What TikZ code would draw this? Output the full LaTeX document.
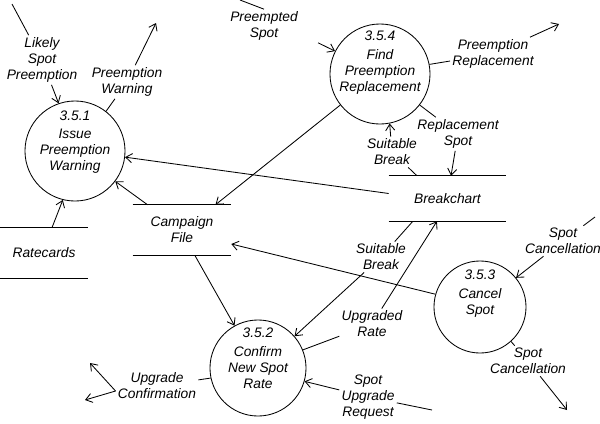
\documentclass[tikz,border=0pt]{standalone}
\usepackage{fontspec}
\setmainfont{Liberation Sans}
\usetikzlibrary{arrows.meta, calc}

\tikzset{
  process/.style={draw, circle, inner sep=0pt, line width=0.6pt},
  procText/.style={align=center, inner sep=0pt},
  flowLabel/.style={align=center, inner sep=1.5pt},
  dataStore/.style={inner sep=0pt, align=center},
  storeLine/.style={line width=0.8pt},
  flow/.style={line width=0.6pt},
}

\begin{document}
\begin{tikzpicture}[x=0.025cm, y=-0.025cm,
    font=\fontsize{9.8}{11.4}\selectfont\itshape,
    >={Straight Barb[length=4.5pt,width=6.5pt]}]
  \useasboundingbox (0,0) rectangle (600,423);

  % processes
  \node[process, minimum size=2.5cm] (issue) at (75,151) {};
  \node[procText] (issueText) at (75,142) {3.5.1\\[1pt]Issue\\Preemption\\Warning};
  \node[process, minimum size=2.5cm] (find) at (380,74) {};
  \node[procText] (findText) at (380,63) {3.5.4\\[2pt]Find\\Preemption\\Replacement};
  \node[process, minimum size=2.3cm] (cancel) at (480,307) {};
  \node[procText] (cancelText) at (480,294) {3.5.3\\[2pt]Cancel\\Spot};
  \node[process, minimum size=2.4cm] (confirm) at (258,368) {};
  \node[procText] (confirmText) at (258,358) {3.5.2\\[2pt]Confirm\\New Spot\\Rate};

  % data stores
  \node[dataStore, minimum width=2.2cm, minimum height=1.25cm] (rates) at (44,253) {Ratecards};
  \node[dataStore, minimum width=2.45cm, minimum height=1.25cm] (cf) at (182,230) {Campaign\\File};
  \node[dataStore, minimum width=2.925cm, minimum height=1.125cm] (bc) at (447.5,198.5) {Breakchart};
  \foreach \s in {rates, cf, bc}
    \draw[storeLine] (\s.north west) -- (\s.north east) (\s.south west) -- (\s.south east);

  % Likely Spot Preemption
  \coordinate (lspIn) at (12,4);
  \node[flowLabel] (lsp) at (42,60) {Likely\\Spot\\Preemption};
  \draw[flow] (lspIn) -- (lsp);
  \draw[flow, ->] (lsp) -- (issue.109);

  % Preemption Warning
  \node[flowLabel] (pw) at (127,82) {Preemption\\Warning};
  \coordinate (pwOut) at (156,23);
  \draw[flow] (issue.52) -- (pw);
  \draw[flow, ->] (pw) -- (pwOut);

  % Preempted Spot
  \coordinate (psIn) at (240,0);
  \node[flowLabel] (ps) at (264,26) {Preempted\\Spot};
  \draw[flow] (psIn) -- (ps.north);
  \draw[flow, ->] ($(ps.south east)+(18,0)$) -- (find.153);

  % Preemption Replacement
  \node[flowLabel] (pr) at (493,54) {Preemption\\Replacement};
  \coordinate (prOut) at (559,24);
  \draw[flow] (find.11) -- (pr);
  \draw[flow, ->] (pr) -- (prOut);

  % Replacement Spot
  \node[flowLabel] (rs) at (458,134) {Replacement\\Spot};
  \draw[flow] (find.-38) -- (rs);
  \draw[flow, ->] (rs) -- ($(bc.north west)!0.53!(bc.north east)$);

  % Suitable Break, up to 3.5.4
  \node[flowLabel] (sbUp) at (392,152) {Suitable\\Break};
  \draw[flow] ($(bc.north west)!0.24!(bc.north east)$) -- (sbUp);
  \draw[flow, ->] (sbUp) -- (find.-79);

  % unlabelled flows
  \draw[flow, ->] (find.-142) -- ($(cf.north west)!0.84!(cf.north east)$);
  \draw[flow, ->] ($(bc.west)+(0,-5)$) -- (issue.-7);
  \draw[flow, ->] ($(cf.north west)!0.15!(cf.north east)$) -- (issue.-37);
  \draw[flow, ->] ($(rates.north west)!0.59!(rates.north east)$) -- (issue.-104);
  \draw[flow, ->] (cancel.164) -- ($(cf.east)+(0,14)$);
  \draw[flow, ->] ($(cf.south west)!0.63!(cf.south east)$) -- (confirm.119);

  % Suitable Break, down to 3.5.2
  \node[flowLabel] (sbDown) at (381,257) {Suitable\\Break};
  \draw[flow] ($(bc.south west)!0.205!(bc.south east)$) -- (sbDown);
  \draw[flow, ->] (sbDown) -- (confirm.41);

  % Upgraded Rate
  \node[flowLabel] (ur) at (372,324) {Upgraded\\Rate};
  \draw[flow] (confirm.22) -- (ur);
  \draw[flow, ->] (ur) -- ($(bc.south west)!0.41!(bc.south east)$);

  % Spot Cancellation in
  \coordinate (scIn) at (595,217);
  \node[flowLabel] (scUp) at (563,241) {Spot\\Cancellation};
  \draw[flow] (scIn) -- (scUp);
  \draw[flow, ->] (scUp) -- (cancel.39);

  % Spot Cancellation out
  \node[flowLabel] (scDown) at (528,361) {Spot\\Cancellation};
  \coordinate (scOut) at (567,410);
  \draw[flow] (cancel.-48) -- (scDown);
  \draw[flow, ->] (scDown) -- (scOut);

  % Spot Upgrade Request
  \coordinate (surIn) at (432,410);
  \node[flowLabel] (sur) at (368,397) {Spot\\Upgrade\\Request};
  \draw[flow] (surIn) -- (sur);
  \draw[flow, ->] (sur) -- (confirm.-16);

  % Upgrade Confirmation
  \node[flowLabel] (uc) at (157,386) {Upgrade\\Confirmation};
  \coordinate (ucOutA) at (90,363);
  \coordinate (ucOutB) at (85,400);
  \draw[flow] (confirm.192) -- (uc);
  \draw[flow, ->] ($(uc.west)+(0,5)$) -- (ucOutA);
  \draw[flow, ->] ($(uc.west)+(0,5)$) -- (ucOutB);
\end{tikzpicture}
\end{document}
